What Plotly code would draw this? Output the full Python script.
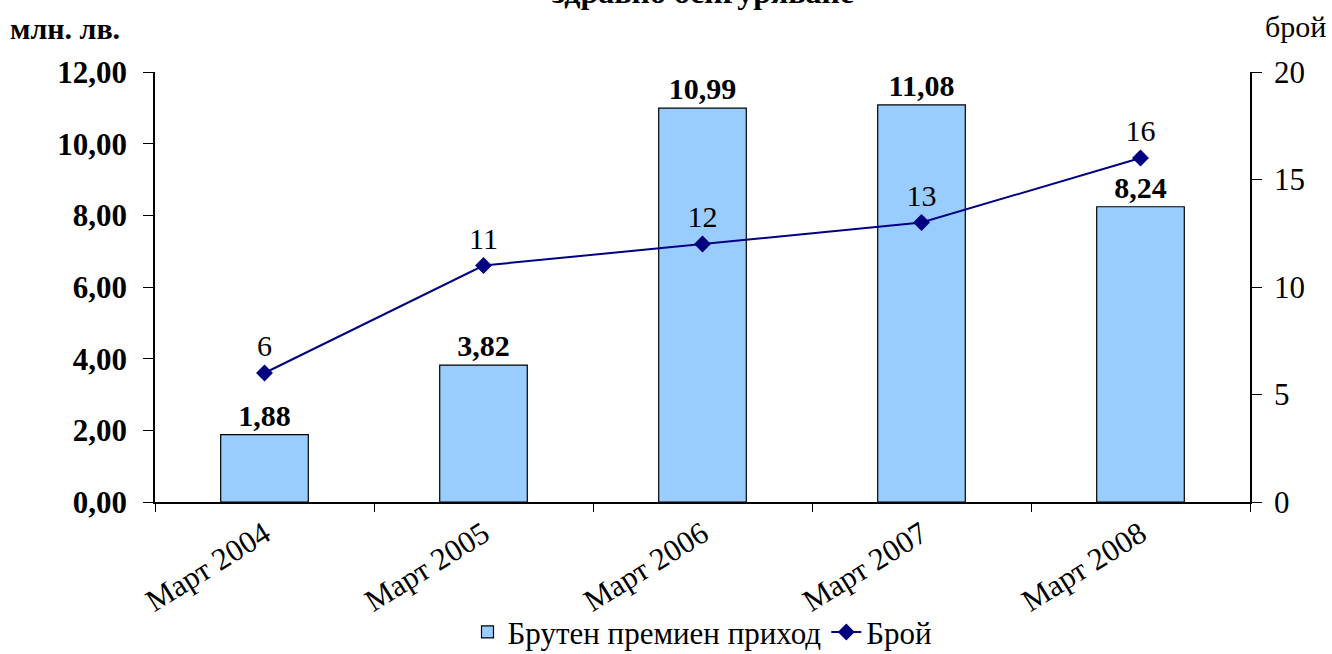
import plotly.graph_objects as go

categories = ["Март 2004", "Март 2005", "Март 2006", "Март 2007", "Март 2008"]
premium = [1.88, 3.82, 10.99, 11.08, 8.24]
count = [6, 11, 12, 13, 16]
left_ticks = [0, 2, 4, 6, 8, 10, 12]
right_ticks = [0, 5, 10, 15, 20]

FONT = "Liberation Serif"
FS = 30

fig = go.Figure()
fig.add_trace(go.Bar(
    x=categories, y=premium, name="Брутен премиен приход",
    marker=dict(color="#99CCFF", line=dict(color="black", width=1.2)),
    width=0.4,
    text=[f"{v:.2f}".replace(".", ",") for v in premium],
    textposition="outside",
    textfont=dict(family=FONT, size=FS, color="black", weight="bold"),
    cliponaxis=False,
))
fig.add_trace(go.Scatter(
    x=categories, y=count, name="Брой", yaxis="y2",
    mode="lines+markers+text",
    line=dict(color="#000080", width=2),
    marker=dict(symbol="diamond", size=13, color="#000080"),
    text=[str(v) for v in count],
    textposition="top center",
    textfont=dict(family=FONT, size=FS, color="black"),
    cliponaxis=False,
))

fig.update_layout(
    width=1332, height=654,
    margin=dict(l=155, r=82, t=72, b=152, autoexpand=False),
    paper_bgcolor="white", plot_bgcolor="white",
    separators=", ",
    font=dict(family=FONT, size=FS, color="black"),
    showlegend=True,
    legend=dict(orientation="h", x=0.5, xanchor="center", y=-0.303, yanchor="middle",
                bgcolor="rgba(0,0,0,0)",
                font=dict(family=FONT, size=FS + 1, color="black"), traceorder="normal"),
    xaxis=dict(
        showline=True, linecolor="black", linewidth=1.5,
        ticks="outside", ticklen=8, tickcolor="black", tickson="boundaries",
        tickangle=-32, tickfont=dict(family=FONT, size=FS + 1),
        showgrid=False, automargin=False,
    ),
    yaxis=dict(
        range=[0, 12], tickvals=left_ticks, tickformat=".2f",
        showline=True, linecolor="black", linewidth=1.5,
        ticks="outside", ticklen=10, tickcolor="black", ticklabelstandoff=10,
        tickfont=dict(family=FONT, size=FS + 1, weight="bold"),
        showgrid=False, zeroline=False, automargin=False,
    ),
    yaxis2=dict(
        range=[0, 20], tickvals=right_ticks, overlaying="y", side="right",
        showline=True, linecolor="black", linewidth=1.5,
        ticks="outside", ticklen=10, tickcolor="black", ticklabelstandoff=6,
        tickfont=dict(family=FONT, size=FS + 1),
        showgrid=False, zeroline=False, automargin=False,
    ),
    annotations=[
        dict(text="здравно осигуряване", xref="paper", yref="paper", x=0.5, y=1.14,
             xanchor="center", yanchor="bottom", showarrow=False,
             font=dict(family=FONT, size=FS + 2, weight="bold")),
        dict(text="млн. лв.", xref="paper", yref="paper", x=-0.134, y=1.1,
             xanchor="left", yanchor="middle", showarrow=False,
             font=dict(family=FONT, size=FS, weight="bold")),
        dict(text="брой", xref="paper", yref="paper", x=1.0712, y=1.105,
             xanchor="right", yanchor="middle", showarrow=False,
             font=dict(family=FONT, size=FS)),
    ],
)

fig.write_html("out.html", config={"displayModeBar": False},
               post_script="document.body.style.margin='0';")
